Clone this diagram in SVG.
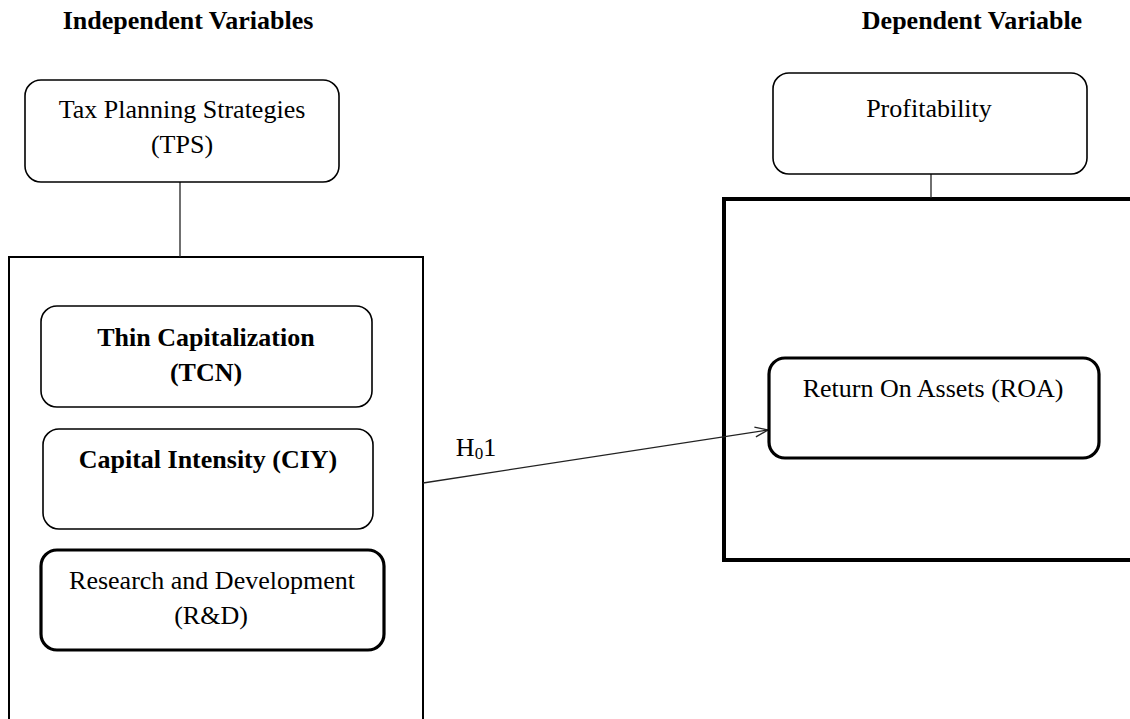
<svg xmlns="http://www.w3.org/2000/svg" width="1130" height="719" viewBox="0 0 1130 719">
<style>
text{font-family:"Liberation Serif","Times New Roman",serif;fill:#000;text-anchor:middle;font-size:26px}
.b{font-weight:bold}
.box{fill:#fff;stroke:#000;stroke-width:1.6}
.thick{fill:#fff;stroke:#000;stroke-width:3.2}
.frame{fill:none;stroke:#000;stroke-width:2}
.frameT{fill:none;stroke:#000;stroke-width:4}
.ln{stroke:#222;stroke-width:1.3;fill:none}
</style>
<defs>
<marker id="ah" markerWidth="16" markerHeight="12" refX="14" refY="6" orient="auto" markerUnits="userSpaceOnUse">
<path d="M1,1 L14,6 L1,11" fill="none" stroke="#222" stroke-width="1.3"/>
</marker>
</defs>
<rect width="1130" height="719" fill="#fff"/>
<g id="headers">
<text class="b" x="188" y="29">Independent Variables</text>
<text class="b" x="972" y="29">Dependent Variable</text>
</g>
<g id="left-frame"><rect class="frame" x="9" y="257" width="414" height="480"/></g>
<g id="right-frame"><rect class="frameT" x="724" y="199" width="420" height="361"/></g>
<g id="connectors">
<line class="ln" x1="180" y1="182" x2="180" y2="257"/>
<line class="ln" x1="931" y1="174" x2="931" y2="198"/>
<line class="ln" x1="423" y1="483" x2="768" y2="430" marker-end="url(#ah)"/>
<text x="476" y="456">H<tspan font-size="17" dy="3">0</tspan><tspan dy="-3">1</tspan></text>
</g>
<g id="tps"><rect class="box" x="25" y="80" width="314" height="102" rx="16"/>
<text x="182" y="118">Tax Planning Strategies</text><text x="182" y="153">(TPS)</text></g>
<g id="tcn"><rect class="box" x="41" y="306" width="331" height="101" rx="16"/>
<text class="b" x="206" y="346">Thin Capitalization</text><text class="b" x="206" y="381">(TCN)</text></g>
<g id="ciy"><rect class="box" x="43" y="429" width="330" height="100" rx="16"/>
<text class="b" x="208" y="468">Capital Intensity (CIY)</text></g>
<g id="rnd"><rect class="thick" x="41" y="550" width="343" height="100" rx="16"/>
<text x="212" y="589">Research and Development</text><text x="211" y="624">(R&amp;D)</text></g>
<g id="profitability"><rect class="box" x="773" y="73" width="314" height="101" rx="16"/>
<text x="929" y="117">Profitability</text></g>
<g id="roa"><rect class="thick" x="769" y="358" width="330" height="100" rx="16"/>
<text x="933" y="397">Return On Assets (ROA)</text></g>
</svg>
